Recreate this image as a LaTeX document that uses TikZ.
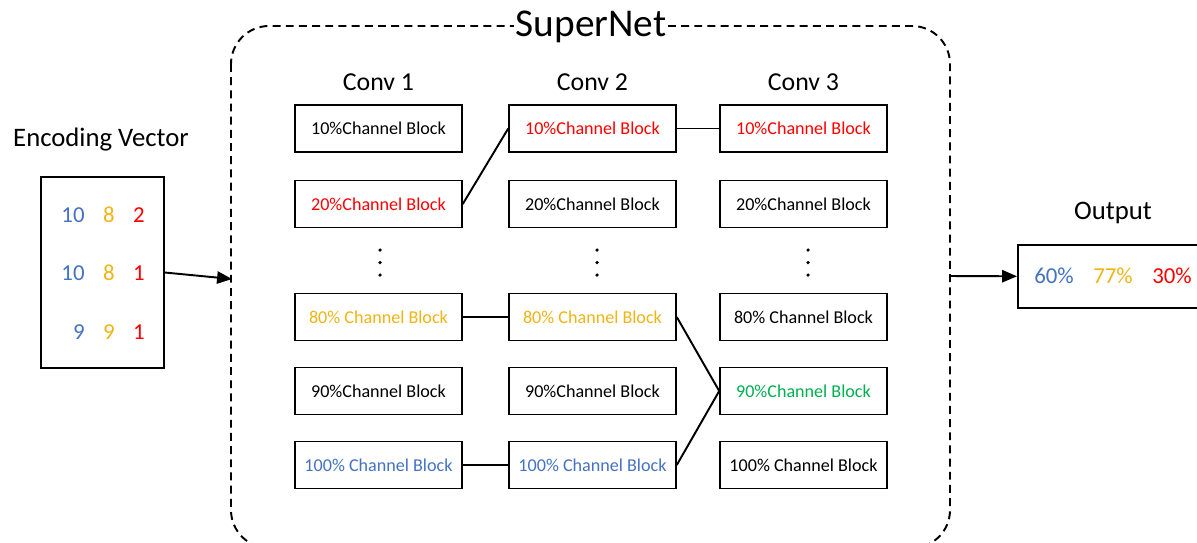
\documentclass[tikz,border=0pt]{standalone}
\usepackage{fontspec}
\setmainfont{Carlito}
\usetikzlibrary{arrows.meta}

\definecolor{encblue}{RGB}{68,114,196}
\definecolor{encgold}{RGB}{240,180,20}
\definecolor{encred}{RGB}{255,0,0}
\definecolor{encgreen}{RGB}{0,176,80}

\tikzset{
  block/.style={draw, line width=0.9pt, minimum width=3.34cm, minimum height=0.94cm, inner sep=0pt, font=\fontsize{10.3}{12}\selectfont},
  head/.style={font=\fontsize{14.7}{17}\selectfont},
  label/.style={font=\fontsize{15.2}{18}\selectfont},
  num/.style={inner sep=0pt, font=\fontsize{13}{15}\selectfont},
  link/.style={line width=1.1pt},
  arrow/.style={line width=1.1pt, -{Triangle[length=8.5pt, width=7pt]}},
}

\begin{document}
\begin{tikzpicture}[x=0.02cm, y=-0.02cm]
			\clip (0,0) rectangle (1197,542);
			\fill[white] (0,0) rectangle (1197,542);
			
			\draw[line width=1.1pt, dash pattern=on 4.5pt off 3pt, rounded corners=0.76cm] (231,26) rectangle (950,548);
			\node[fill=white, inner sep=1pt, font=\fontsize{22.4}{26}\selectfont] (title) at (591,27) {SuperNet};
			
			\node[head] (conv1) at (378.5,82) {Conv 1};
			\node[head] (conv2) at (592.5,82) {Conv 2};
			\node[head] (conv3) at (803.5,82) {Conv 3};
			
			\foreach \n/\x/\y/\clr/\txt in {
				c1p10/378.5/128.5/black/10\%Channel Block,
				c1p20/378.5/204/encred/20\%Channel Block,
				c1p80/378.5/317/encgold/80\% Channel Block,
				c1p90/378.5/391/black/90\%Channel Block,
				c1p100/378.5/465/encblue/100\% Channel Block,
				c2p10/592.5/128.5/encred/10\%Channel Block,
				c2p20/592.5/204/black/20\%Channel Block,
				c2p80/592.5/317/encgold/80\% Channel Block,
				c2p90/592.5/391/black/90\%Channel Block,
				c2p100/592.5/465/encblue/100\% Channel Block,
				c3p10/803.5/128.5/encred/10\%Channel Block,
				c3p20/803.5/204/black/20\%Channel Block,
				c3p80/803.5/317/black/80\% Channel Block,
				c3p90/803.5/391/encgreen/90\%Channel Block,
				c3p100/803.5/465/black/100\% Channel Block}{
				\node[block, text=\clr] (\n) at (\x,\y) {\txt};
			}
			
			\foreach \x in {380,597,808} {
				\foreach \y in {250,262.5,275} {\fill (\x,\y) circle (1pt);}
			}
			
			\draw[link] (c1p20.east) -- (c2p10.west);
			\draw[link] (c2p10.east) -- (c3p10.west);
			\draw[link] (c1p80.east) -- (c2p80.west);
			\draw[link] (c2p80.east) -- (c3p90.west);
			\draw[link] (c1p100.east) -- (c2p100.west);
			\draw[link] (c2p100.east) -- (c3p90.west);
			
			\node[label] (enclabel) at (101,140) {Encoding Vector};
			\node[draw, line width=0.9pt, minimum width=2.46cm, minimum height=3.82cm] (enc) at (102.5,272.5) {};
			\foreach \r/\y/\a/\b/\c in {1/215/10/8/2, 2/273/10/8/1, 3/332/9/9/1} {
				\node[num, text=encblue, anchor=east] (v\r a) at (85,\y) {\a};
				\node[num, text=encgold] (v\r b) at (109,\y) {\b};
				\node[num, text=encred] (v\r c) at (139,\y) {\c};
			}
			\coordinate (inlet) at (232,279);
			\draw[arrow] (enc.east) -- (inlet);
			
			\node[label] (outlabel) at (1113,213) {Output};
			\node[draw, line width=0.9pt, anchor=north west, minimum width=4cm, minimum height=1.26cm] (out) at (1017,244) {};
			\node[num, text=encblue] (o1) at (1054,276) {60\%};
			\node[num, text=encgold] (o2) at (1113,276) {77\%};
			\node[num, text=encred] (o3) at (1172,276) {30\%};
			\coordinate (outlet) at (950,276);
			\draw[arrow] (outlet) -- (out.west);
		\end{tikzpicture}
\end{document}
